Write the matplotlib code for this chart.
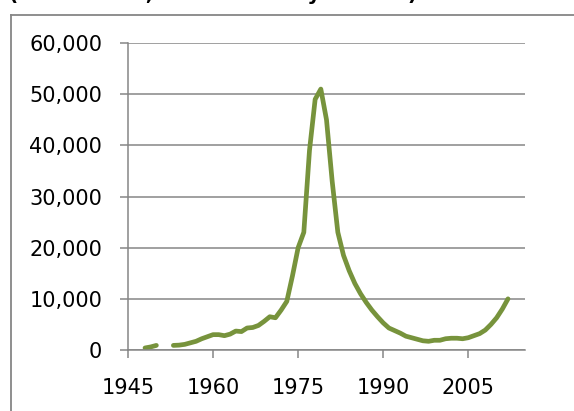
import matplotlib.pyplot as plt
import numpy as np
from matplotlib.lines import Line2D
from matplotlib.ticker import FuncFormatter

# yearly values (1951-1952 missing)
years = list(range(1948, 2013))
values = [400, 600, 900, None, None, 900, 950, 1100, 1400, 1700,
          2200, 2600, 3000, 3000, 2800, 3100, 3700, 3600, 4300, 4400,
          4800, 5600, 6500, 6300, 7800, 9500, 14500, 20000, 23000, 39000,
          49000, 51000, 45000, 33000, 23000, 18500, 15500, 13000, 11000, 9300,
          7800, 6500, 5300, 4300, 3800, 3300, 2700, 2400, 2100, 1800,
          1700, 1900, 1900, 2200, 2300, 2300, 2200, 2400, 2800, 3200,
          3900, 5000, 6300, 8000, 10000]
x_ticks = [1945, 1960, 1975, 1990, 2005]
y_ticks = [0, 10000, 20000, 30000, 40000, 50000, 60000]
title = "(World total, thousand troy ounces)"

vals = np.array([np.nan if v is None else v for v in values], dtype=float)

fig = plt.figure(figsize=(5.74, 4.11), dpi=100)
ax = fig.add_axes([128/574, 1 - 350/411, (525 - 128)/574, (350 - 43)/411])

grey = '#868686'
ax.plot(years, vals, color='#77933C', lw=3.4, solid_capstyle='round',
        solid_joinstyle='round')

ax.set_xlim(1945, 2015)
ax.set_ylim(0, 60000)
ax.set_xticks(x_ticks)
ax.set_yticks(y_ticks)
ax.yaxis.set_major_formatter(FuncFormatter(lambda v, p: f"{int(v):,}"))
ax.grid(axis='y', color=grey, lw=1.1)
ax.set_axisbelow(True)

for s in ['top', 'right']:
    ax.spines[s].set_visible(False)
for s in ['left', 'bottom']:
    ax.spines[s].set_color(grey)
    ax.spines[s].set_linewidth(1.1)

ax.tick_params(axis='both', colors=grey, labelcolor='black', labelsize=15,
               length=5.5, width=1.1)
ax.tick_params(axis='y', pad=13)
ax.tick_params(axis='x', pad=15)

# chart border, only top and left are inside the picture
fig.add_artist(Line2D([11/574, 11/574], [0, 1 - 15/411], color=grey, lw=1.3))
fig.add_artist(Line2D([11/574, 1], [1 - 15/411, 1 - 15/411], color=grey, lw=1.3))

# title sits above the picture; only its lowest strokes show, as in the reference
fig.text(9/574, 1 + 0.5/411, title, fontsize=14.5, fontweight='bold',
         ha='left', va='baseline')

fig.savefig('out.png', dpi=100)
